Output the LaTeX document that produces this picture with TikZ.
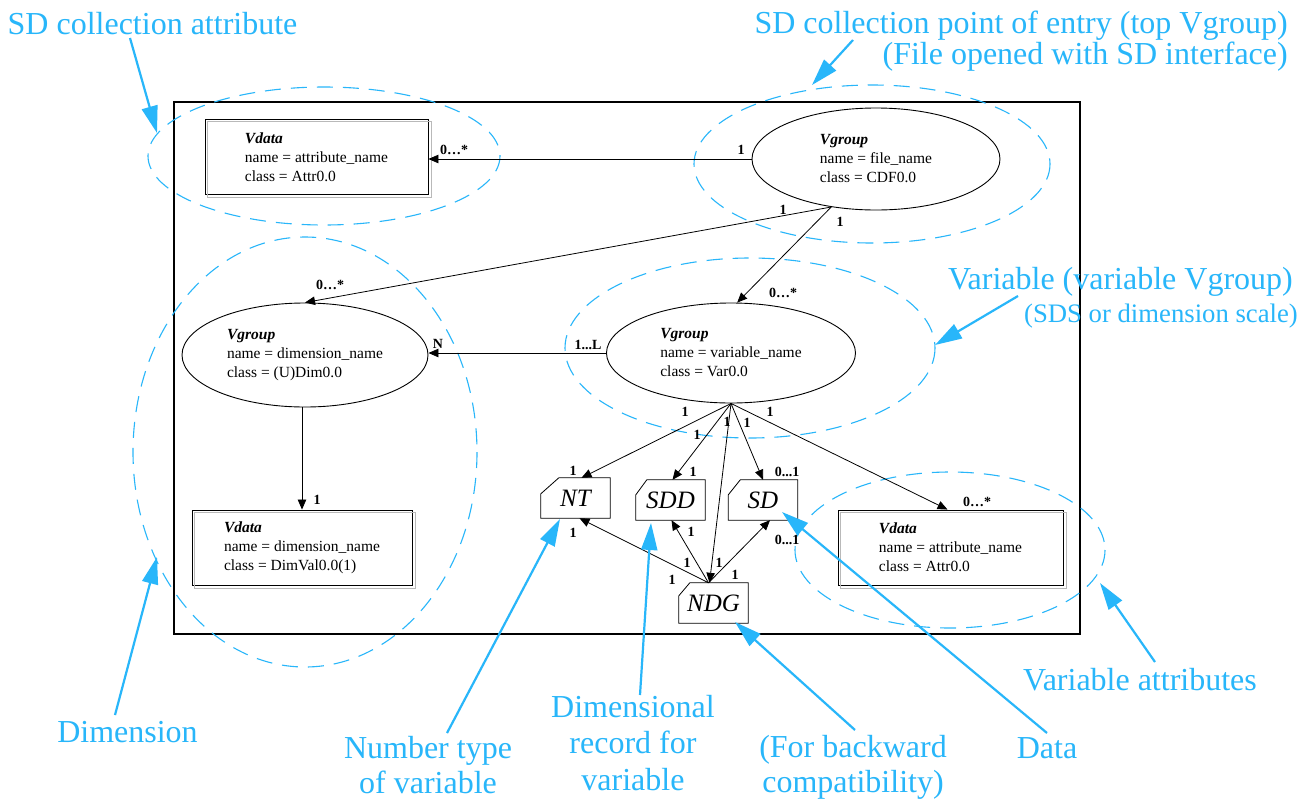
\documentclass[tikz,border=0pt]{standalone}
\usepackage{fontspec}
\setmainfont{Liberation Serif}
\usetikzlibrary{arrows.meta,shapes.geometric,calc}
\definecolor{callblue}{RGB}{40,182,250}
\begin{document}
\begin{tikzpicture}[x=1pt,y=-1pt,
 every node/.style={inner sep=0pt},
 info/.style={font=\fontsize{15.5}{19}\selectfont, align=left},
 vgroup/.style={ellipse, draw, line width=0.9pt, minimum width=248pt, minimum height=102pt, info},
 vdata/.style={draw, line width=0.9pt, minimum height=75pt, info},
 tagbox/.style={minimum width=69pt, minimum height=40pt, font=\fontsize{25}{25}\selectfont\itshape},
 mult/.style={font=\fontsize{14}{14}\selectfont\bfseries},
 conn/.style={line width=0.8pt, -{Triangle[length=10pt,width=8.5pt]}},
 plain/.style={line width=0.8pt},
 grouping/.style={callblue, line width=1.1pt, dash pattern=on 16pt off 10pt},
 callout/.style={callblue, line width=2.2pt, -{Triangle[length=27pt,width=16pt]}},
 calltext/.style={text=callblue, font=\fontsize{32}{35}\selectfont, align=center},
]
\useasboundingbox (0,0) rectangle (1307,801);
\fill[white] (0,0) rectangle (1307,801);

% frame
\draw[line width=2pt] (174,102) rectangle (1080,634);

% grouping ellipses
\draw[grouping] (324,156) ellipse [x radius=176, y radius=69];
\draw[grouping] (872,164) ellipse [x radius=178, y radius=79];
\draw[grouping] (750,348) ellipse [x radius=185, y radius=90];
\draw[grouping] (305,452) ellipse [x radius=172, y radius=215];
\draw[grouping] (950,550) ellipse [x radius=155, y radius=78];

% Vdata boxes
\node[vdata, minimum width=223pt] (sdattr) at (316.5,157) {\textbf{\textit{Vdata}}\\name = attribute\_name\\class = Attr0.0};
\node[vdata, minimum width=220pt] (dimdata) at (302,547.5) {\textbf{\textit{Vdata}}\\name = dimension\_name\\class = DimVal0.0(1)};
\node[vdata, minimum width=225pt] (varattr) at (950.5,547.5) {\textbf{\textit{Vdata}}\\name = attribute\_name\\class = Attr0.0};
\foreach \b in {sdattr,dimdata,varattr}
  \draw[gray!55, line width=0.9pt] ([shift={(2.5pt,-2.5pt)}]\b.south west) rectangle ([shift={(2.5pt,-2.5pt)}]\b.north east);

% Vgroups
\node[vgroup] (vgtop) at (876,159) {\textbf{\textit{Vgroup}}\\name = file\_name\\class = CDF0.0};
\node[vgroup, minimum width=246pt, minimum height=104pt] (dim) at (305,355) {\textbf{\textit{Vgroup}}\\name = dimension\_name\\class = (U)Dim0.0};
\node[vgroup, minimum width=249pt, minimum height=100pt] (var) at (731,353) {\textbf{\textit{Vgroup}}\\name = variable\_name\\class = Var0.0};

% tag shapes
\node[tagbox] (nt) at (575.5,498) {NT};
\node[tagbox] (sdd) at (670.5,500) {SDD};
\node[tagbox] (sd) at (763,500) {SD};
\node[tagbox] (ndg) at (713.5,603) {NDG};
\foreach \n/\c/\d in {nt/18/16,sdd/11/15,sd/12/15,ndg/11/13}
  \draw[plain] (\n.south west) -- (\n.south east) -- (\n.north east) -- ([xshift=\c pt]\n.north west) -- ([yshift=-\d pt]\n.north west) -- cycle;

% connectors
\draw[conn] (vgtop.west) -- (vgtop.west -| sdattr.east);
\draw[conn] (vgtop.227) -- (dim.north);
\draw[conn] (vgtop.227) -- (var.83);
\draw[conn] (var.west) -- (var.west -| dim.east);
\draw[conn] (dimdata.north |- dim.south) -- (dimdata.north);
\draw[conn] (var.south) -- ([xshift=6pt]nt.north);
\draw[conn] (var.south) -- ([xshift=2pt]sdd.north);
\draw[conn] (var.south) -- (sd.north);
\draw[conn] (var.south) -- ([xshift=-4pt]ndg.north);
\draw[conn] (var.south) -- ([xshift=-3pt]varattr.north);
\draw[conn] ([xshift=-5pt]ndg.north) -- ([xshift=4pt]nt.south);
\draw[conn] ([xshift=-5pt]ndg.north) -- ([xshift=1pt]sdd.south);
\draw[conn] ([xshift=-5pt]ndg.north) -- ([xshift=7pt]sd.south);

% multiplicities
\node[mult] (m1) at (741,150) {1};
\node[mult] (m2) at (454,150) {0…*};
\node[mult] (m3) at (783,210) {1};
\node[mult] (m4) at (840,222) {1};
\node[mult] (m5) at (330,285) {0…*};
\node[mult] (m6) at (783,293) {0…*};
\node[mult] (m7) at (588,345) {1...L};
\node[mult] (m8) at (438,344) {N};
\node[mult] (m9) at (317,500) {1};
\node[mult] (m10) at (977,502) {0…*};
\node[mult] (m11) at (685,412) {1};
\node[mult] (m12) at (697,435) {1};
\node[mult] (m13) at (727,422) {1};
\node[mult] (m14) at (747,423) {1};
\node[mult] (m15) at (770,412) {1};
\node[mult] (m16) at (573,471) {1};
\node[mult] (m17) at (693,472) {1};
\node[mult] (m18) at (787,472) {0...1};
\node[mult] (m19) at (573,533) {1};
\node[mult] (m20) at (691,532) {1};
\node[mult] (m21) at (787,540) {0...1};
\node[mult] (m22) at (687,563) {1};
\node[mult] (m23) at (719,563) {1};
\node[mult] (m24) at (672,580) {1};
\node[mult] (m25) at (735,575) {1};

% callout texts
\node[calltext, anchor=base] (tA) at (152.5,34) {SD collection attribute};
\node[calltext, align=right, anchor=north east, font=\fontsize{32}{31}\selectfont] (tB) at (1288,11) {SD collection point of entry (top Vgroup)\\(File opened with SD interface)};
\node[calltext, anchor=base east] (tC) at (1293,289) {Variable (variable Vgroup)};
\node[calltext, anchor=base east, font=\fontsize{26.7}{30}\selectfont] (tC2) at (1298,322) {(SDS or dimension scale)};
\node[calltext, anchor=base] (tD) at (127.5,742) {Dimension};
\node[calltext, anchor=north] (tNT) at (428,736) {Number type\\of variable};
\node[calltext, anchor=north, font=\fontsize{32}{36.5}\selectfont] (tSDD) at (633,695) {Dimensional\\record for\\variable};
\node[calltext, anchor=north] (tNDG) at (853,735) {(For backward\\compatibility)};
\node[calltext, anchor=base] (tSD) at (1047,758) {Data};
\node[calltext, anchor=base] (tVA) at (1140,690) {Variable attributes};

% callout arrows
\coordinate (sA) at (130,38);   \coordinate (eA) at (157,133);
\coordinate (sB) at (853,40);   \coordinate (eB) at (812,85);
\coordinate (sC) at (1018,296); \coordinate (eC) at (935,345);
\coordinate (sD) at (115,715);  \coordinate (eD) at (157,557);
\coordinate (sNT) at (447,733); \coordinate (eNT) at (560,519);
\coordinate (sSDD) at (640,695); \coordinate (eSDD) at (651,523);
\coordinate (sNDG) at (855,730); \coordinate (eNDG) at (735,622);
\coordinate (sSD) at (1047,733); \coordinate (eSD) at (782,512);
\coordinate (sVA) at (1155,662); \coordinate (eVA) at (1100,583);
\foreach \k in {A,B,C,D,NT,SDD,NDG,SD,VA}
  \draw[callout] (s\k) -- (e\k);
\end{tikzpicture}
\end{document}
